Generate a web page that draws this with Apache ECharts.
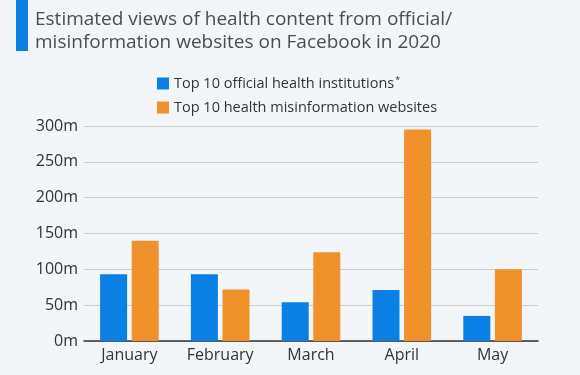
<!DOCTYPE html>
<html>
<head>
<meta charset="utf-8">
<script src="https://cdn.jsdelivr.net/npm/echarts@6/dist/echarts.min.js"></script>
<style>
  html, body { margin: 0; padding: 0; background: #f3f6f9; }
  #main { width: 580px; height: 375px; }
</style>
</head>
<body>
<div id="main"></div>
<script>
// chart data
var months = ['January', 'February', 'March', 'April', 'May'];
var officialViews = [93, 93, 54, 71, 35];
var misinfoViews = [140, 72, 124, 295, 100];
var seriesNames = ['Top 10 official health institutions', 'Top 10 health misinformation websites'];

var myChart = echarts.init(document.getElementById('main'));

var option = {
    backgroundColor: '#f3f6f9',
    textStyle: { fontFamily: 'Open Sans' },
    graphic: [
        {
            type: 'rect',
            shape: { x: 16, y: 0, width: 12, height: 51 },
            style: { fill: '#0b80e4' }
        },
        {
            type: 'text',
            left: 35,
            top: 8,
            style: {
                text: 'Estimated views of health content from official/\nmisinformation websites on Facebook in 2020',
                font: '19px "Open Sans"',
                lineHeight: 23,
                fill: '#4d4d4d'
            }
        }
    ],
    legend: {
        orient: 'vertical',
        left: 152,
        top: 71,
        itemWidth: 12,
        itemHeight: 12,
        itemGap: 9,
        itemStyle: { borderWidth: 0 },
        icon: 'rect',
        data: seriesNames,
        formatter: function (name) {
            if (name === seriesNames[0]) {
                return '{t|' + name + '}{s|*}';
            }
            return '{t|' + name + '}';
        },
        textStyle: {
            rich: {
                t: { fontSize: 14.5, color: '#333', fontFamily: 'Open Sans' },
                s: { fontSize: 9, color: '#333', verticalAlign: 'top', padding: [0, 0, 6, 1] }
            }
        }
    },
    grid: {
        left: 84,
        right: 42,
        top: 126,
        bottom: 34
    },
    xAxis: {
        type: 'category',
        data: months,
        axisTick: { show: false },
        axisLine: { lineStyle: { color: '#333', width: 1.5 } },
        axisLabel: { color: '#333', fontSize: 16, margin: 6 }
    },
    yAxis: {
        type: 'value',
        min: 0,
        max: 300,
        interval: 50,
        axisLabel: { color: '#333', fontSize: 16, margin: 6, formatter: '{value}m' },
        splitLine: { lineStyle: { color: '#cccccc', width: 1 } },
        axisLine: { show: false },
        axisTick: { show: false }
    },
    series: [
        {
            name: seriesNames[0],
            type: 'bar',
            data: officialViews,
            barWidth: 27,
            barGap: '17%',
            itemStyle: { color: '#0b80e4' }
        },
        {
            name: seriesNames[1],
            type: 'bar',
            data: misinfoViews,
            barWidth: 27,
            barGap: '17%',
            itemStyle: { color: '#f0912c' }
        }
    ]
};

myChart.setOption(option);
</script>
</body>
</html>
